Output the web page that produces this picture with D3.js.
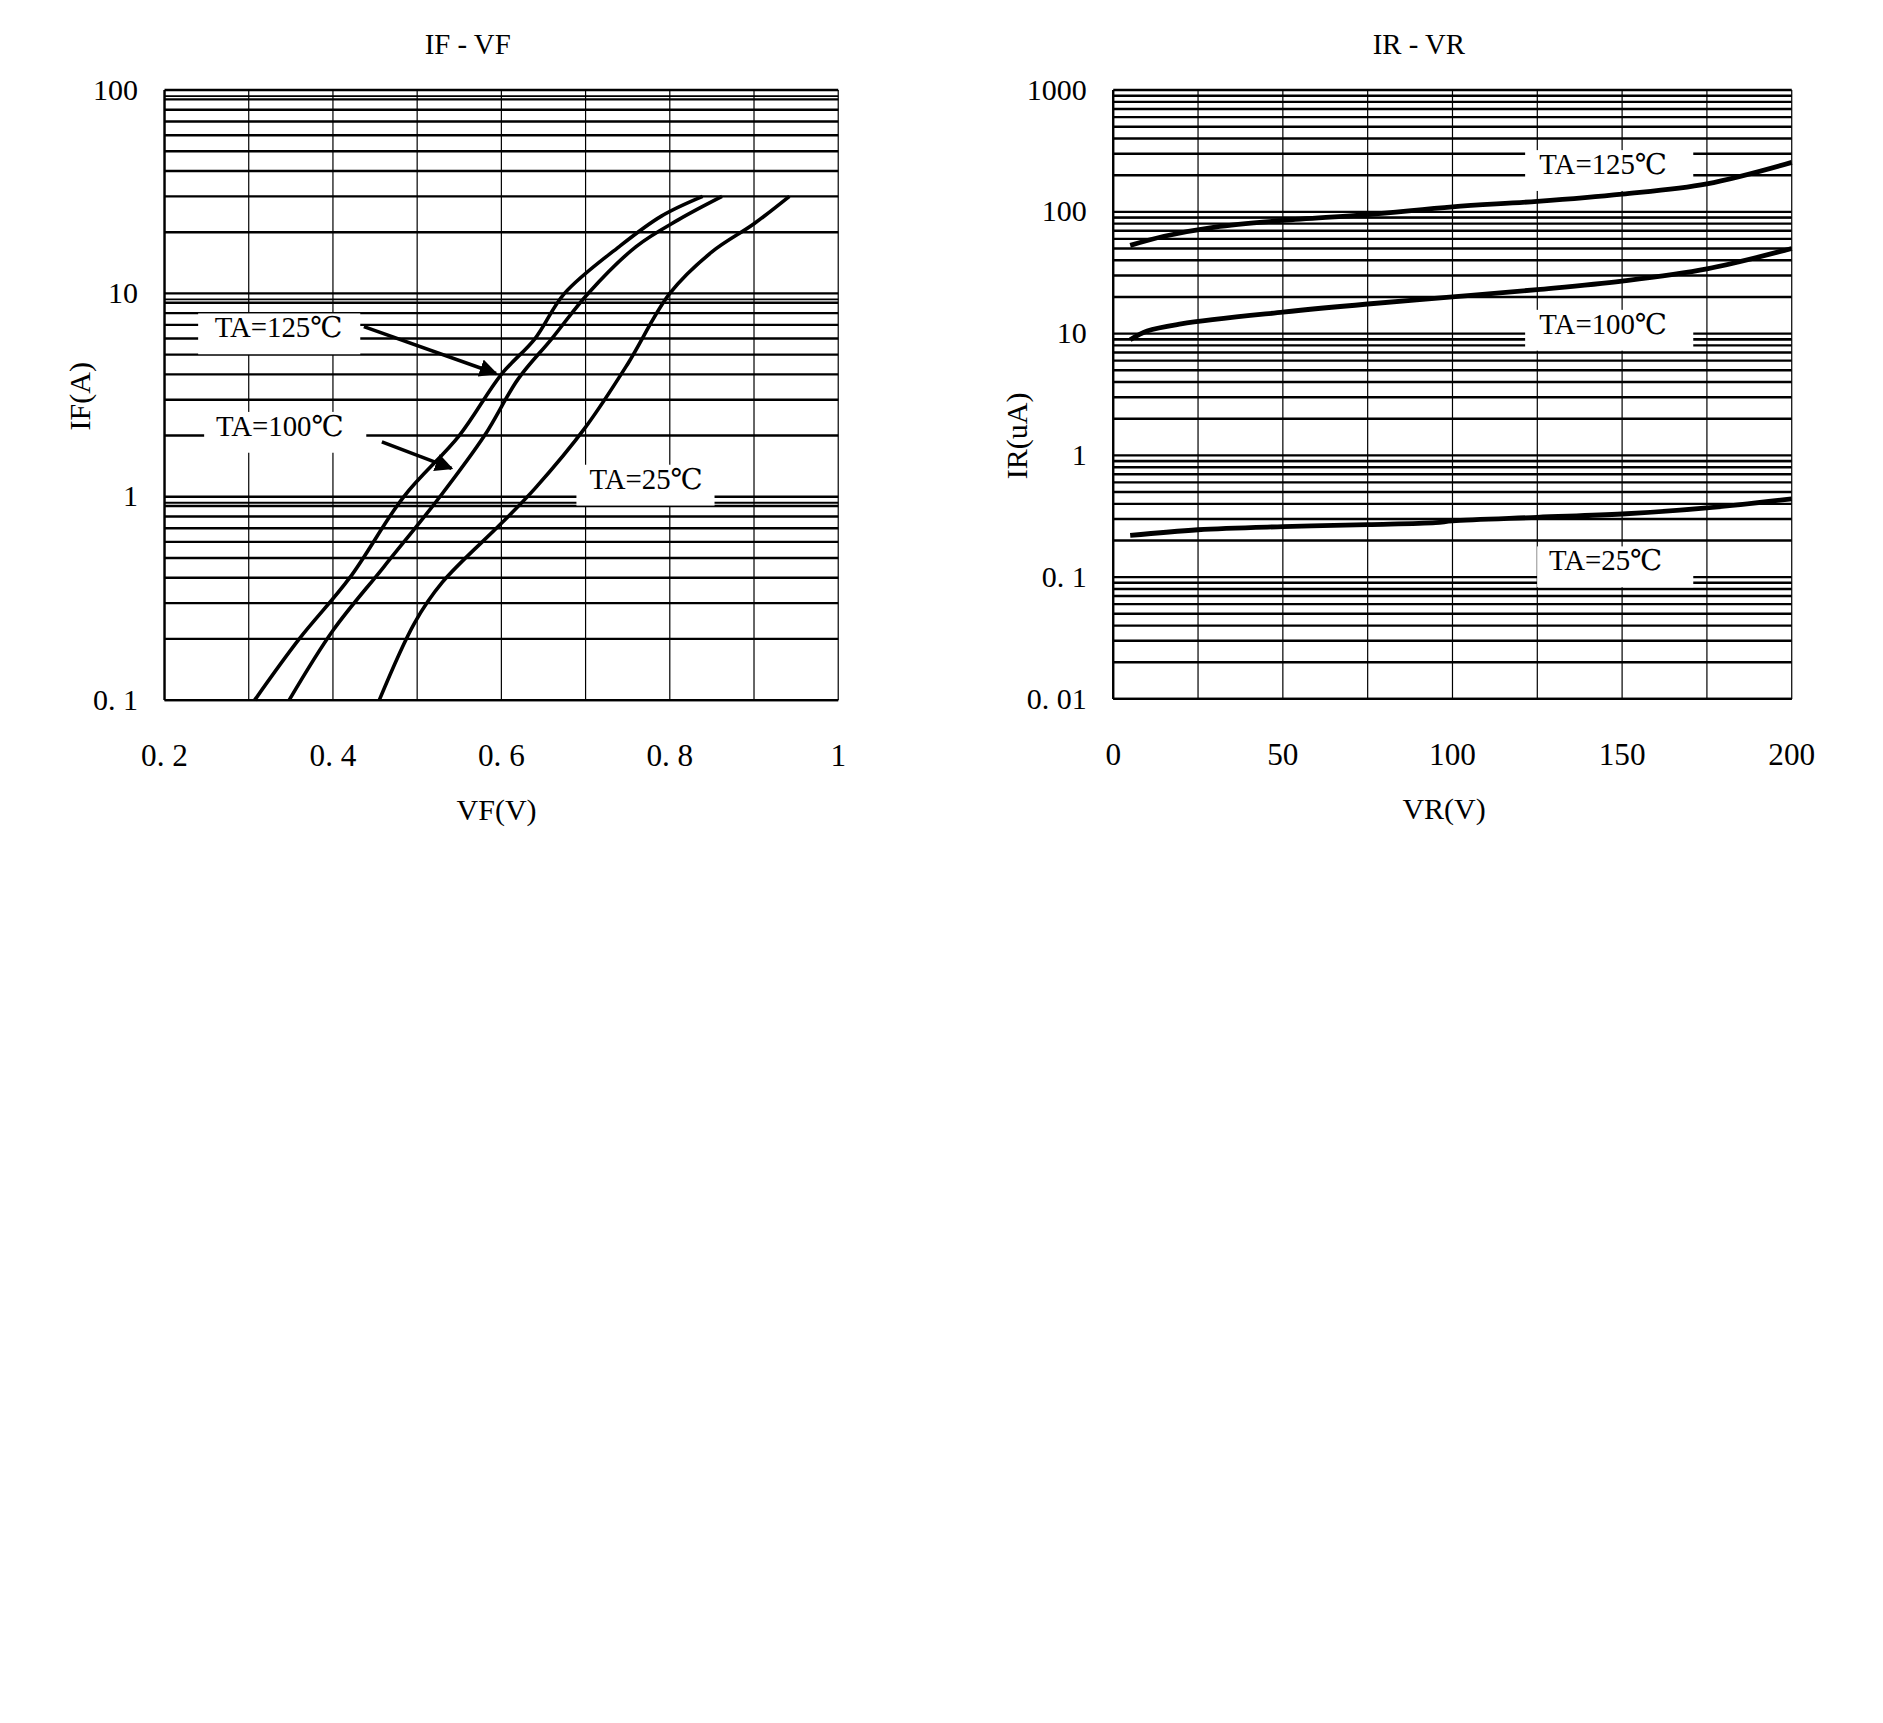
<!DOCTYPE html>
<html><head><meta charset="utf-8">
<script src="https://cdn.jsdelivr.net/npm/d3@7"></script>
<style>body{margin:0;background:#fff}</style>
</head><body>
<div id="chart"></div>
<script>
// IF-VF curves (V, A)
const vf125 = [0.307,0.36,0.42,0.484,0.55,0.60,0.64,0.675,0.74,0.79,0.839];
const if125 = [0.1,0.2,0.4,1,2,4,6,10,17,24,30];
const vf100 = [0.348,0.40,0.46,0.527,0.58,0.62,0.66,0.703,0.76,0.81,0.862];
const if100 = [0.1,0.22,0.45,1,2,3.8,6,10,17,23,30];
const vf25 = [0.455,0.497,0.53,0.60,0.64,0.70,0.75,0.80,0.85,0.90,0.942];
const if25 = [0.1,0.24,0.38,0.74,1.1,2.2,4.5,10,16,22,30];
const vfTicks = [0.2,0.4,0.6,0.8,1];
const vfTickLabels = ["0. 2","0. 4","0. 6","0. 8","1"];
const ifTicks = [0.1,1,10,100];
const ifTickLabels = ["0. 1","1","10","100"];

// IR-VR curves (V, uA)
const vr125 = [5,15,30,50,75,100,125,150,175,200];
const ir125 = [53,63,75,85,95,110,122,140,170,255];
const vr100 = [5,10,20,50,75,100,125,150,175,200];
const ir100 = [8.9,10.5,12,15,17.5,20,23,27,34,50];
const vr25 = [5,25,50,75,95,100,125,150,175,200];
const ir25 = [0.22,0.245,0.26,0.27,0.28,0.29,0.31,0.33,0.37,0.44];
const vrTicks = [0,50,100,150,200];
const irTicks = [0.01,0.1,1,10,100,1000];
const irTickLabels = ["0. 01","0. 1","1","10","100","1000"];

const font = "'Liberation Serif','DejaVu Serif',serif";
const k = 1883/1568;
const svg = d3.select("#chart").append("svg").attr("width",1883).attr("height",1723);
svg.append("rect").attr("width",1883).attr("height",1723).attr("fill","#fff");
const g = svg.append("g").attr("transform",`scale(${k})`);

function minorVals(lo, hi) {
    const out = [];
    for (let d = lo; d < hi * 0.999; d *= 10)
        for (let m = 1; m <= 9; m++) out.push(d * m);
    out.push(hi);
    return out;
}

function panel(o) {
    const x = d3.scaleLinear().domain(o.xd).range([o.x0, o.x1]);
    const y = d3.scaleLog().domain(o.yd).range([o.y1, o.y0]);
    const p = g.append("g");
    p.selectAll(".v").data(o.vgrid).join("line")
        .attr("x1", d => x(d)).attr("x2", d => x(d))
        .attr("y1", o.y0).attr("y2", o.y1).attr("stroke","#000").attr("stroke-width",1);
    const hv = minorVals(o.yd[0], o.yd[1]);
    p.selectAll(".h").data(hv).join("line")
        .attr("x1", o.x0).attr("x2", o.x1)
        .attr("y1", d => y(d)).attr("y2", d => y(d)).attr("stroke","#000").attr("stroke-width",2);
    p.selectAll(".h2").data(o.yticks.slice(1)).join("line")
        .attr("x1", o.x0).attr("x2", o.x1)
        .attr("y1", d => y(d)+5).attr("y2", d => y(d)+5).attr("stroke","#000").attr("stroke-width",1.5);
    p.append("line").attr("x1",o.x0).attr("x2",o.x0).attr("y1",o.y0).attr("y2",o.y1).attr("stroke","#000").attr("stroke-width",2);
    p.append("line").attr("x1",o.x0).attr("x2",o.x1).attr("y1",o.y1).attr("y2",o.y1).attr("stroke","#000").attr("stroke-width",2);
    o.labels.forEach(l => {
        p.append("rect").attr("x", l.bx).attr("y", l.y - 20).attr("width", l.bw).attr("height", 34).attr("fill","#fff");
    });
    const line = d3.line().x(d => x(d[0])).y(d => y(d[1])).curve(d3.curveCatmullRom);
    o.series.forEach(s => {
        p.append("path").attr("d", line(d3.zip(s[0], s[1]))).attr("fill","none")
            .attr("stroke","#000").attr("stroke-width", o.sw);
    });
    o.labels.forEach(l => {
        p.append("text").attr("x", l.x).attr("y", l.y).attr("text-anchor","middle")
            .attr("font-family",font).attr("font-size",24).text(l.t);
    });
    p.selectAll(".yt").data(o.yticks).join("text")
        .attr("x", o.x0 - 22).attr("y", d => y(d) + 8).attr("text-anchor","end")
        .attr("font-family",font).attr("font-size",25).text((d,i) => o.ylab[i]);
    p.selectAll(".xt").data(o.xticks).join("text")
        .attr("x", d => x(d)).attr("y", o.y1 + 55).attr("text-anchor","middle")
        .attr("font-family",font).attr("font-size",26).text((d,i) => o.xlab[i]);
    p.append("text").attr("x",(o.x0+o.x1)/2 - 28).attr("y",45).attr("text-anchor","middle")
        .attr("font-family",font).attr("font-size",24).text(o.title);
    p.append("text").attr("x",(o.x0+o.x1)/2 + o.xlOff).attr("y",o.y1+100).attr("text-anchor","middle")
        .attr("font-family",font).attr("font-size",25).text(o.xlabel);
    p.append("text").attr("transform",`translate(${o.ylx},${o.yly}) rotate(-90)`).attr("text-anchor","middle")
        .attr("font-family",font).attr("font-size",25).text(o.ylabel);
    return {x, y, p};
}

const L = panel({
    x0:137, x1:698, y0:75, y1:583, xd:[0.2,1], yd:[0.1,100],
    vgrid:d3.range(0.2,1.001,0.1), xticks:vfTicks, xlab:vfTickLabels,
    yticks:ifTicks, ylab:ifTickLabels, sw:3,
    series:[[vf125,if125],[vf100,if100],[vf25,if25]],
    labels:[{t:"TA=125℃",x:232,y:281,bx:165,bw:135},{t:"TA=100℃",x:233,y:363,bx:170,bw:135},{t:"TA=25℃",x:538,y:407,bx:480,bw:115}],
    title:"IF - VF", xlabel:"VF(V)", xlOff:-4, ylabel:"IF(A)", ylx:75, yly:330
});
const defs = svg.append("defs");
defs.append("marker").attr("id","ah").attr("viewBox","0 0 10 10").attr("refX",9).attr("refY",5)
    .attr("markerWidth",5).attr("markerHeight",5).attr("orient","auto")
    .append("path").attr("d","M0,0L10,5L0,10z").attr("fill","#000");
L.p.append("line").attr("x1",303).attr("y1",272).attr("x2",413).attr("y2",311)
    .attr("stroke","#000").attr("stroke-width",3).attr("marker-end","url(#ah)");
L.p.append("line").attr("x1",318).attr("y1",368).attr("x2",376).attr("y2",390)
    .attr("stroke","#000").attr("stroke-width",3).attr("marker-end","url(#ah)");

panel({
    x0:927, x1:1492, y0:75, y1:582, xd:[0,200], yd:[0.01,1000],
    vgrid:d3.range(0,201,25), xticks:vrTicks, xlab:vrTicks.map(String),
    yticks:irTicks, ylab:irTickLabels, sw:4,
    series:[[vr125,ir125],[vr100,ir100],[vr25,ir25]],
    labels:[{t:"TA=125℃",x:1335,y:145,bx:1270,bw:140},{t:"TA=100℃",x:1335,y:278,bx:1270,bw:140},{t:"TA=25℃",x:1337,y:475,bx:1280,bw:130}],
    title:"IR - VR", xlabel:"VR(V)", xlOff:-7, ylabel:"IR(uA)", ylx:855, yly:363
});
</script>
</body></html>
